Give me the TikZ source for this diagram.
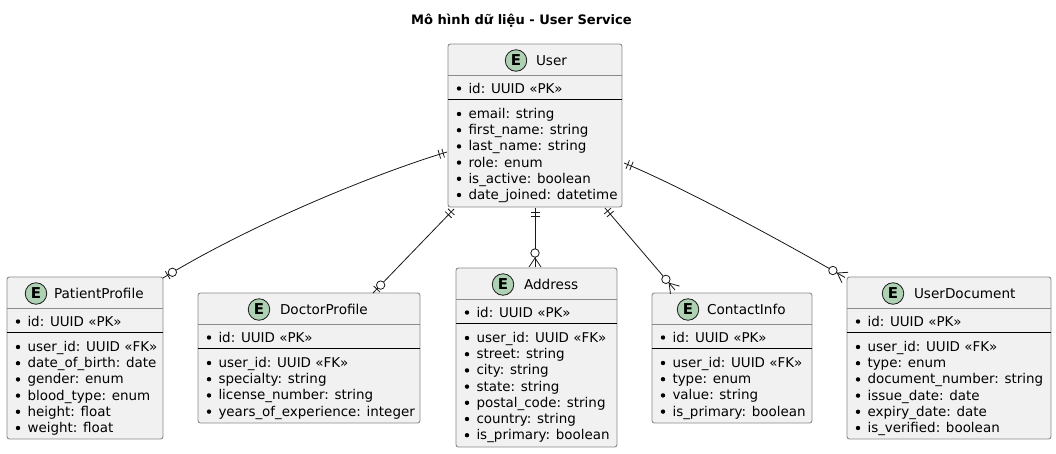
\documentclass[tikz,border=0pt]{standalone}
\usepackage{fontspec}
\setmainfont{DejaVu Sans}
\usetikzlibrary{calc}
\definecolor{boxfill}{HTML}{F1F1F1}
\definecolor{boxline}{HTML}{8A8A8A}
\definecolor{ink}{HTML}{181818}
\definecolor{spot}{HTML}{ADD1B2}
\tikzset{
  entitybox/.style={draw=boxline,fill=boxfill,line width=0.9pt,rounded corners=2.5pt,inner sep=0pt,outer sep=0pt},
  rowtext/.style={anchor=base west,inner sep=0pt,outer sep=0pt,font=\fontsize{13.45}{15}\selectfont,text=black},
  titletext/.style={anchor=base west,inner sep=0pt,outer sep=0pt,font=\fontsize{13.6}{15}\selectfont,text=black},
  spotnode/.style={circle,draw=ink,fill=spot,line width=0.8pt,minimum size=21.5pt,inner sep=0pt,font=\bfseries\fontsize{15}{15}\selectfont,text=black},
  bullet/.style={circle,fill=black,minimum size=4.4pt,inner sep=0pt,outer sep=0pt},
  link/.style={draw=ink,line width=0.8pt}
}
% name, x1, y1, x2, y2, title, spot x, title x, rows
\newcommand{\entity}[9]{%
  \pgfmathsetmacro{\cx}{(#2+#4)/2}\pgfmathsetmacro{\cy}{(#3+#5)/2}%
  \pgfmathsetmacro{\boxw}{#4-#2}\pgfmathsetmacro{\boxh}{#5-#3}%
  \pgfmathsetmacro{\sepa}{#3+31.5}\pgfmathsetmacro{\sepb}{#3+55.5}%
  \pgfmathsetmacro{\bx}{#2+11}\pgfmathsetmacro{\tx}{#2+20.5}%
  \node[entitybox,minimum width=\boxw pt,minimum height=\boxh pt] (#1) at (\cx,\cy) {};
  \draw[draw=boxline,line width=0.9pt] (#1.west |- 0,\sepa) -- (#1.east |- 0,\sepa);
  \draw[draw=black,line width=0.9pt] (#1.west |- 0,\sepb) -- (#1.east |- 0,\sepb);
  \node[spotnode] (#1-spot) at (#7,#3+16.5) {E};
  \node[titletext] (#1-title) at (#8,#3+21.5) {#6};
  \node[bullet] (#1-idb) at (\bx,\sepa+13) {};
  \node[rowtext] (#1-id) at (\tx,\sepa+18) {id: UUID «PK»};
  \foreach \rowt [count=\i from 0] in {#9} {
    \pgfmathsetmacro{\yy}{\sepb+19+16.2*\i}
    \pgfmathsetmacro{\yb}{\sepb+14.5+16.2*\i}
    \node[bullet] (#1-b\i) at (\bx,\yb) {};
    \node[rowtext] (#1-r\i) at (\tx,\yy) {\rowt};
  }
}
\newcommand{\linktick}[3]{\draw[link] ($(#1)!#3pt!(#2)!4.5pt!90:(#2)$) -- ($(#1)!#3pt!(#2)!4.5pt!-90:(#2)$);}
\newcommand{\linkring}[3]{\draw[link,fill=white] ($(#1)!#3pt!(#2)$) circle[radius=4.2pt];}
\newcommand{\onlyone}[2]{\linktick{#1}{#2}{4}\linktick{#1}{#2}{8}}
\newcommand{\zeroone}[2]{\linktick{#1}{#2}{5.5}\linkring{#1}{#2}{11}}
\newcommand{\zeromany}[2]{%
  \draw[link] ($(#1)!9pt!(#2)$) -- ($(#1)!6pt!90:(#2)$);
  \draw[link] ($(#1)!9pt!(#2)$) -- ($(#1)!6pt!-90:(#2)$);
  \linkring{#1}{#2}{14}}
\begin{document}
\begin{tikzpicture}[x=1pt,y=-1pt]
\useasboundingbox (0,0) rectangle (1056,453);
\fill[white] (0,0) rectangle (1056,453);
\node[anchor=base,inner sep=0pt,font=\bfseries\fontsize{13.05}{15}\selectfont,text=black] (title) at (521.5,24) {Mô hình dữ liệu - User Service};

\entity{user}{448}{44}{622}{207}{User}{516}{536}{email: string,first\_name: string,last\_name: string,role: enum,is\_active: boolean,date\_joined: datetime}
\entity{patient}{7}{277}{163}{439}{PatientProfile}{36}{54}{user\_id: UUID «FK»,date\_of\_birth: date,gender: enum,blood\_type: enum,height: float,weight: float}
\entity{doctor}{198}{293}{420}{423}{DoctorProfile}{259}{280}{user\_id: UUID «FK»,specialty: string,license\_number: string,years\_of\_experience: integer}
\entity{address}{456}{268}{617}{447}{Address}{503}{524}{user\_id: UUID «FK»,street: string,city: string,state: string,postal\_code: string,country: string,is\_primary: boolean}
\entity{contact}{652}{293}{812}{423}{ContactInfo}{688}{707}{user\_id: UUID «FK»,type: enum,value: string,is\_primary: boolean}
\entity{document}{847}{277}{1051}{439}{UserDocument}{893}{914}{user\_id: UUID «FK»,type: enum,document\_number: string,issue\_date: date,expiry\_date: date,is\_verified: boolean}

% free ends of the connectors, tied to the boxes
\coordinate (pa) at ([shift={(-1,108)}]user.north west);
\coordinate (pb) at ([shift={(0,1)}]patient.north east);
\coordinate (pc) at (380,172);
\coordinate (pd) at (255,222);
\coordinate (da) at ([shift={(6,2)}]user.south west);
\coordinate (db) at ([shift={(-47,0)}]doctor.north east);
\coordinate (aa) at ([shift={(0,1)}]user.south);
\coordinate (ab) at ([shift={(-1.5,-1)}]address.north);
\coordinate (ca) at ([shift={(-17,1)}]user.south east);
\coordinate (cb) at ([shift={(23,-3)}]contact.north west);
\coordinate (ua) at ([shift={(2,119)}]user.north east);
\coordinate (ub) at ([shift={(-2,0.5)}]document.north west);
\coordinate (uc) at (680,186);
\coordinate (ud) at (780,240);

\draw[link] (pa) .. controls (pc) and (pd) .. (pb);
\draw[link] (da) -- (db);
\draw[link] (aa) -- (ab);
\draw[link] (ca) -- (cb);
\draw[link] (ua) .. controls (uc) and (ud) .. (ub);

\onlyone{pa}{pc}\zeroone{pb}{pd}
\onlyone{da}{db}\zeroone{db}{da}
\onlyone{aa}{ab}\zeromany{ab}{aa}
\onlyone{ca}{cb}\zeromany{cb}{ca}
\onlyone{ua}{uc}\zeromany{ub}{ud}
\end{tikzpicture}
\end{document}
